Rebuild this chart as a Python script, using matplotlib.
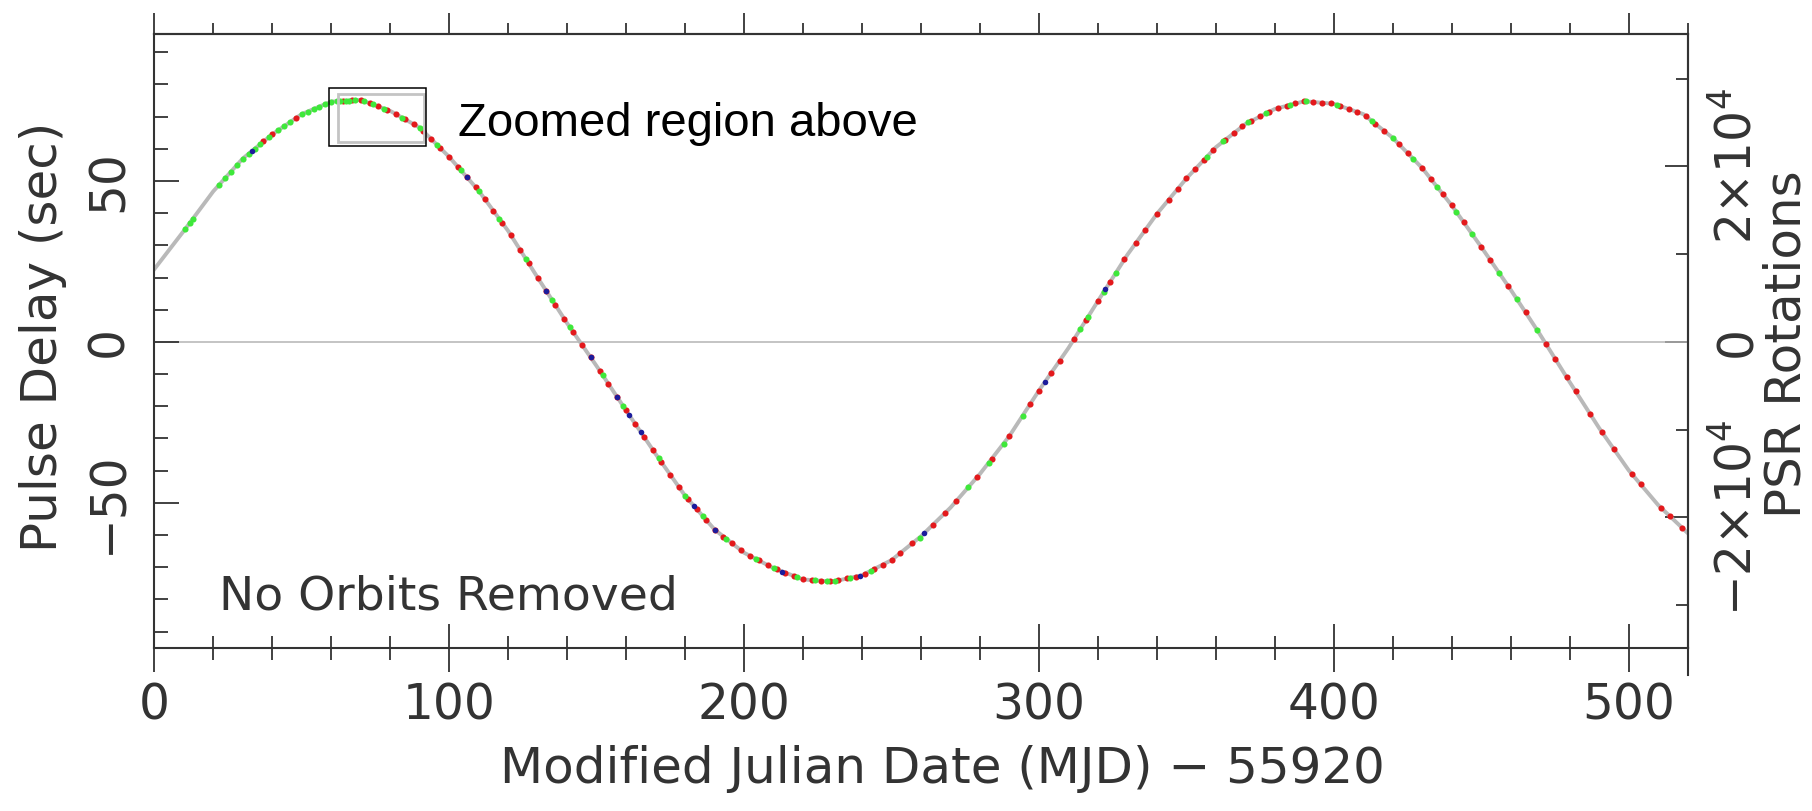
import matplotlib
matplotlib.use("Agg")
import matplotlib.pyplot as plt
from matplotlib.patches import Rectangle
from matplotlib.ticker import MultipleLocator, FixedLocator, NullFormatter

plt.rcParams['font.family'] = ['DejaVu Sans']
plt.rcParams['mathtext.fontset'] = 'dejavusans'

# model curve (gray), read every 10 days
model_day = [0, 10, 20, 30, 40, 50, 60, 70, 80, 90, 100, 110, 120, 130, 140, 150, 160, 170,
             180, 190, 200, 210, 220, 230, 240, 250, 260, 270, 280, 290, 300, 310, 320, 330,
             340, 350, 360, 370, 380, 390, 400, 410, 420, 430, 440, 450, 460, 470, 480, 490,
             500, 510, 520]
model_delay = [22.6, 34.5, 46.8, 57.0, 64.5, 70.8, 74.7, 75.2, 71.8, 66.6, 57.5, 47.0, 34.5,
               20.0, 5.8, -7.5, -21.3, -34.8, -47.8, -58.3, -65.5, -70.3, -73.8, -74.5, -72.5,
               -67.8, -60.4, -51.5, -41.0, -29.2, -15.1, -1.9, 12.7, 27.1, 39.8, 50.8, 60.5,
               67.7, 72.4, 74.8, 74.0, 70.8, 63.4, 54.0, 42.4, 29.5, 16.2, 2.2, -12.5, -26.8,
               -39.9, -50.7, -59.4]

# measured pulse delays, by colour
red_day = [37, 40, 48, 64, 67, 70, 73, 76, 79, 82, 85, 88, 91, 94, 97, 100, 103, 106, 109, 112,
           115, 118, 121, 124, 127, 130, 133, 136, 139, 142, 145, 148, 151, 154, 157, 160, 163,
           166, 169, 172, 175, 178, 181, 184, 187, 190, 193, 196, 199, 202, 205, 208, 211, 214,
           217, 220, 223, 226, 229, 232, 235, 238, 241, 244, 247, 250, 253, 257, 264, 268, 272,
           279, 284, 290, 297, 300, 304, 307, 312, 316, 320, 324, 329, 333, 336, 340, 344, 347,
           350, 353, 356, 359, 363, 366, 369, 372, 375, 378, 381, 384, 387, 390, 393, 396, 399,
           402, 405, 408, 411, 414, 417, 422, 425, 430, 433, 437, 440, 444, 450, 453, 459, 465,
           472, 475, 479, 482, 487, 491, 495, 501, 504, 511, 514, 518]
red_delay = [62.3, 64.5, 69.5, 74.9, 75.1, 75.2, 74.2, 73.2, 72.1, 70.8, 69.2, 67.6, 65.7, 63.0,
             60.2, 57.5, 54.4, 51.2, 48.1, 44.5, 40.8, 37.0, 33.1, 28.7, 24.4, 20.0, 15.7, 11.5,
             7.2, 3.1, -0.9, -4.8, -8.9, -13.0, -17.2, -21.3, -25.4, -29.4, -33.5, -37.4, -41.3,
             -45.2, -48.9, -52.0, -55.2, -58.3, -60.5, -62.6, -64.8, -66.5, -67.9, -69.3, -70.7,
             -71.7, -72.8, -73.8, -74.0, -74.2, -74.4, -74.1, -73.5, -72.9, -72.0, -70.6, -69.2,
             -67.8, -65.6, -62.6, -56.8, -53.3, -49.4, -42.1, -36.3, -29.2, -19.3, -15.1, -9.8,
             -5.9, 1.0, 6.9, 12.7, 18.5, 25.7, 30.9, 34.7, 39.8, 44.2, 47.5, 50.8, 53.7, 56.6,
             59.5, 62.7, 64.8, 67.0, 68.6, 70.1, 71.5, 72.6, 73.4, 74.1, 74.8, 74.6, 74.3, 74.1,
             73.4, 72.4, 71.4, 70.1, 67.8, 65.6, 61.5, 58.7, 54.0, 50.5, 45.9, 42.4, 37.2, 29.5,
             25.5, 17.5, 9.2, -0.7, -5.2, -11.0, -15.4, -22.5, -28.1, -33.4, -41.0, -44.2, -51.6,
             -54.2, -57.7]

green_day = [10.5, 12, 13, 22, 24, 26, 28, 30, 32, 34, 36, 39, 42, 44, 46, 50, 52, 54, 56, 58,
             60, 62, 63, 65, 66, 68, 71, 74, 78, 84, 90, 96, 104, 110, 117, 126, 135, 141, 152,
             159, 171, 180, 186, 194, 204, 210, 218, 224, 228, 231, 236, 243, 259.5, 276, 283,
             288, 294.5, 314, 316.5, 322, 326, 357, 362.5, 371, 377, 385, 390.5, 401, 413, 420,
             427, 435, 441.5, 447, 456, 462, 469]
green_delay = [35.1, 37.0, 38.2, 48.8, 50.9, 52.9, 55.0, 57.0, 58.5, 60.0, 61.5, 63.8, 65.8,
               67.0, 68.3, 70.8, 71.6, 72.4, 73.1, 73.9, 74.7, 74.8, 74.9, 75.0, 75.0, 75.1,
               74.9, 73.8, 72.5, 69.7, 66.6, 61.1, 53.3, 47.0, 38.3, 25.8, 12.9, 4.5, -10.3,
               -19.9, -36.1, -47.8, -54.1, -61.2, -67.4, -70.3, -73.1, -74.1, -74.4, -74.3,
               -73.3, -71.1, -60.8, -45.2, -37.5, -31.6, -22.9, 3.9, 7.6, 15.6, 21.3, 57.6, 62.3,
               68.2, 71.0, 73.6, 74.8, 73.7, 68.6, 63.4, 56.8, 48.2, 40.5, 33.4, 21.5, 13.4, 3.6]

blue_day = [33, 106, 133, 148, 157, 161, 165, 183, 190, 213, 239.4, 261, 302, 322.5]
blue_delay = [59.3, 51.2, 15.7, -4.8, -17.2, -22.7, -28.1, -51.0, -58.3, -71.4, -72.6, -59.5,
              -12.5, 16.3]

# pulsar spin frequency used for the right-hand axis (rotations per second)
PSR_FREQ = 366.8

# the small "zoomed region" boxes
box_day = (59.4, 92.1)
box_delay = (60.9, 78.8)
inner_day = (62.2, 91.5)
inner_delay = (62.2, 77.2)

INK = '#333333'
FS = 35

fig = plt.figure(figsize=(18.12, 8.11), dpi=100)
ax = fig.add_axes([0.08515, 0.20062, 0.84625, 0.75709])

ax.axhline(0, color='#b4b4b4', lw=1.1, zorder=1)
ax.plot(model_day, model_delay, color='#b9b9b9', lw=2.8, zorder=2)
ax.plot(red_day, red_delay, 'o', ms=4.4, mew=0, color='#e3191c', zorder=3)
ax.plot(green_day, green_delay, 'o', ms=4.4, mew=0, color='#3ee83a', zorder=4)
ax.plot(blue_day, blue_delay, 'o', ms=4.0, mew=0, color='#1c1c9c', zorder=5)

ax.add_patch(Rectangle((inner_day[0], inner_delay[0]), inner_day[1] - inner_day[0],
                       inner_delay[1] - inner_delay[0], fill=False, ec='#c4c4c4', lw=2.0, zorder=6))
ax.add_patch(Rectangle((box_day[0], box_delay[0]), box_day[1] - box_day[0],
                       box_delay[1] - box_delay[0], fill=False, ec='black', lw=1.1, zorder=7))
ax.text(102.9, 64.0, 'Zoomed region above', family='Liberation Sans', fontsize=34,
        color='black', va='baseline', ha='left')
ax.text(21.9, -83.2, 'No Orbits Removed', fontsize=34, color=INK, va='baseline', ha='left')

ax.set_xlim(0, 520)
ax.set_ylim(-95.2, 95.6)

for s in ax.spines.values():
    s.set_linewidth(1.5)
    s.set_color(INK)

# bottom axis: ticks cross the spine
ax.xaxis.set_major_locator(MultipleLocator(100))
ax.xaxis.set_minor_locator(MultipleLocator(20))
ax.tick_params(axis='x', which='major', direction='inout', length=34.5, width=1.3, color=INK,
               top=False, labelsize=FS, labelcolor=INK, pad=6.8)
ax.tick_params(axis='x', which='minor', direction='inout', length=17, width=1.3, color=INK,
               top=False)

# top axis: ticks point outward, no labels
top = ax.secondary_xaxis('top')
top.xaxis.set_major_locator(MultipleLocator(100))
top.xaxis.set_minor_locator(MultipleLocator(20))
top.xaxis.set_major_formatter(NullFormatter())
top.tick_params(which='major', direction='out', length=15, width=1.3, color=INK)
top.tick_params(which='minor', direction='out', length=8, width=1.3, color=INK)
top.spines['top'].set_linewidth(1.5)
top.spines['top'].set_color(INK)

# left axis
ax.set_yticks([-50, 0, 50], labels=['\u221250', '0', '50'])
ax.yaxis.set_minor_locator(MultipleLocator(10))
ax.tick_params(axis='y', which='major', direction='in', length=18, width=1.3, color=INK,
               right=False, labelsize=FS, labelcolor=INK, labelrotation=90, pad=22.9)
ax.tick_params(axis='y', which='minor', direction='in', length=10, width=1.3, color=INK,
               right=False)
for t in ax.yaxis.get_major_ticks():
    t.label1.set_rotation_mode('anchor')
    t.label1.set_ha('center')
    t.label1.set_va('baseline')
ax.yaxis.get_major_ticks()[1].tick1line.set_color('#b4b4b4')

# right axis in pulsar rotations
right = ax.secondary_yaxis('right', functions=(lambda s: s * PSR_FREQ, lambda r: r / PSR_FREQ))
right.set_yticks([-2e4, 0, 2e4],
                 labels=[r'$-2{\times}10^{4}$', '0', r'$2{\times}10^{4}$'])
right.yaxis.set_minor_locator(FixedLocator([-3e4, -1e4, 1e4, 3e4]))
right.tick_params(which='major', direction='in', length=16.8, width=1.3, color=INK,
                  labelsize=FS, labelcolor=INK, labelrotation=90, pad=45.6)
right.tick_params(which='minor', direction='in', length=8.4, width=1.3, color=INK)
right.spines['right'].set_linewidth(1.5)
right.spines['right'].set_color('#444444')
for t in right.yaxis.get_major_ticks():
    for lab in (t.label1, t.label2):
        lab.set_rotation_mode('anchor')
        lab.set_ha('center')
        lab.set_va('baseline')
zt = right.yaxis.get_major_ticks()[1]
zt.tick1line.set_color('#b4b4b4')
zt.tick2line.set_color('#b4b4b4')

# right frame edge runs a little below the bottom axis
ax.plot([1, 1], [0, -0.044], transform=ax.transAxes, color=INK, lw=1.5, clip_on=False)

fig.text(0.0315, 0.585, 'Pulse Delay (sec)', rotation=90, rotation_mode='anchor',
         ha='center', va='baseline', fontsize=FS + 1, color=INK)
fig.text(0.9939, 0.576, 'PSR Rotations', rotation=90, rotation_mode='anchor',
         ha='center', va='baseline', fontsize=FS + 1, color=INK)
fig.text(0.52, 0.0345, 'Modified Julian Date (MJD) \u2212 55920', ha='center', va='baseline',
         fontsize=FS + 1, color=INK)

fig.savefig('out.png', dpi=100, facecolor='white')
